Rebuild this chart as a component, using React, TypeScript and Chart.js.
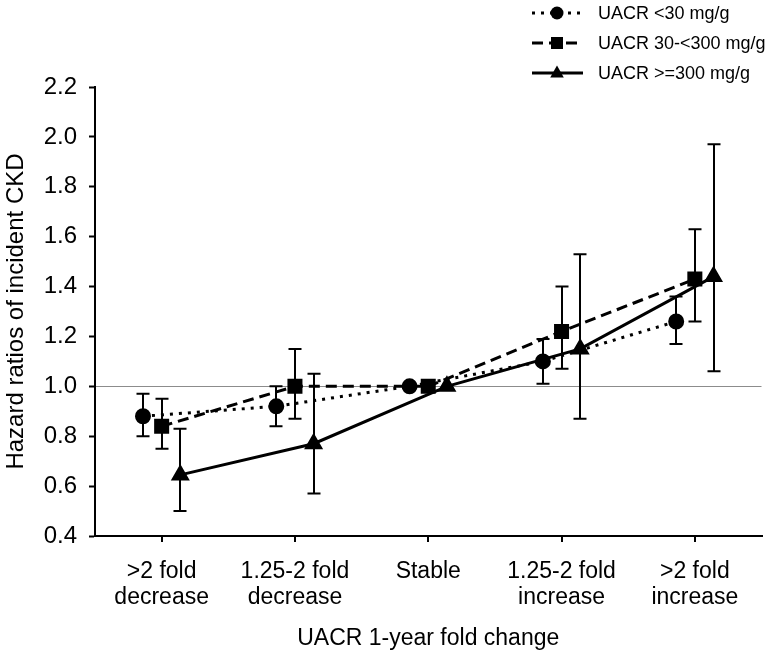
import React, { useEffect, useRef } from 'react';
import { Chart, registerables } from 'chart.js';

Chart.register(...registerables);

// ---- data ----
const categories: string[][] = [
  ['>2 fold', 'decrease'],
  ['1.25-2 fold', 'decrease'],
  ['Stable'],
  ['1.25-2 fold', 'increase'],
  ['>2 fold', 'increase'],
];

const seriesNames = ['UACR <30 mg/g', 'UACR 30-<300 mg/g', 'UACR >=300 mg/g'];

const lowHR = [0.88, 0.92, 1.0, 1.1, 1.26];
const lowLo = [0.8, 0.84, 1.0, 1.01, 1.17];
const lowHi = [0.97, 1.0, 1.0, 1.19, 1.36];

const midHR = [0.84, 1.0, 1.0, 1.22, 1.43];
const midLo = [0.75, 0.87, 1.0, 1.07, 1.26];
const midHi = [0.95, 1.15, 1.0, 1.4, 1.63];

const highHR = [0.645, 0.77, 1.0, 1.15, 1.44];
const highLo = [0.5, 0.57, 1.0, 0.87, 1.06];
const highHi = [0.83, 1.05, 1.0, 1.53, 1.97];

const yTicks = [0.4, 0.6, 0.8, 1.0, 1.2, 1.4, 1.6, 1.8, 2.0, 2.2];

const FONT = '"Liberation Sans", Arial, sans-serif';

function drawMarker(ctx: CanvasRenderingContext2D, style: string, x: number, y: number) {
  ctx.beginPath();
  if (style === 'circle') {
    ctx.arc(x, y, 6.5, 0, Math.PI * 2);
  } else if (style === 'rect') {
    ctx.rect(x - 6, y - 6, 12, 12);
  } else {
    ctx.moveTo(x, y - 7.5);
    ctx.lineTo(x + 6.8, y + 4.5);
    ctx.lineTo(x - 6.8, y + 4.5);
    ctx.closePath();
  }
  ctx.fill();
}

const errorBarPlugin = {
  id: 'errorBars',
  afterDatasetsDraw(chart: any) {
    const ctx = chart.ctx as CanvasRenderingContext2D;
    const ys = chart.scales.y;
    ctx.save();
    ctx.strokeStyle = '#000';
    ctx.lineWidth = 2;
    ctx.setLineDash([]);
    chart.data.datasets.forEach((ds: any, di: number) => {
      const meta = chart.getDatasetMeta(di);
      meta.data.forEach((pt: any, i: number) => {
        const lo = ds.errLo[i];
        const hi = ds.errHi[i];
        if (lo === hi) return;
        const x = Math.round(pt.x);
        const y1 = ys.getPixelForValue(lo);
        const y2 = ys.getPixelForValue(hi);
        ctx.beginPath();
        ctx.moveTo(x, y1);
        ctx.lineTo(x, y2);
        ctx.moveTo(x - 6.5, y1);
        ctx.lineTo(x + 6.5, y1);
        ctx.moveTo(x - 6.5, y2);
        ctx.lineTo(x + 6.5, y2);
        ctx.stroke();
      });
    });
    ctx.restore();
  },
};

const legendPlugin = {
  id: 'customLegend',
  afterDraw(chart: any) {
    const ctx = chart.ctx as CanvasRenderingContext2D;
    chart.data.datasets.forEach((ds: any, i: number) => {
      const y = 13 + i * 30;
      ctx.save();
      ctx.strokeStyle = '#000';
      ctx.fillStyle = '#000';
      ctx.lineWidth = 3;
      ctx.setLineDash(ds.borderDash || []);
      ctx.beginPath();
      ctx.moveTo(532, y);
      ctx.lineTo(583, y);
      ctx.stroke();
      ctx.setLineDash([]);
      drawMarker(ctx, ds.pointStyle, 557, y);
      ctx.font = '18px ' + FONT;
      ctx.textAlign = 'left';
      ctx.textBaseline = 'middle';
      ctx.fillText(ds.label, 598, y + 1);
      ctx.restore();
    });
  },
};

function makeData(vals: number[], offset: number) {
  return vals.map((v, i) => ({ x: i + offset, y: v }));
}

export default function App() {
  const ref = useRef<HTMLCanvasElement | null>(null);

  useEffect(() => {
    if (!ref.current) return;
    const common = {
      borderColor: '#000',
      backgroundColor: '#000',
      pointBackgroundColor: '#000',
      pointBorderColor: '#000',
      borderWidth: 3,
      fill: false,
      tension: 0,
    };
    const chart = new Chart(ref.current, {
      type: 'line',
      data: {
        datasets: [
          {
            ...common,
            label: seriesNames[0],
            data: makeData(lowHR, -0.14),
            borderDash: [3, 6],
            pointStyle: 'circle',
            pointRadius: 6.5,
            errLo: lowLo,
            errHi: lowHi,
          } as any,
          {
            ...common,
            label: seriesNames[1],
            data: makeData(midHR, 0),
            borderDash: [11, 6],
            pointStyle: 'rect',
            pointRadius: 8.5,
            errLo: midLo,
            errHi: midHi,
          } as any,
          {
            ...common,
            label: seriesNames[2],
            data: makeData(highHR, 0.14),
            borderDash: [],
            pointStyle: 'triangle',
            pointRadius: 8,
            errLo: highLo,
            errHi: highHi,
          } as any,
        ],
      },
      options: {
        responsive: false,
        animation: false,
        layout: { padding: { top: 87, right: 3, left: 0, bottom: 0 } },
        plugins: {
          legend: { display: false },
          tooltip: { enabled: false },
        },
        scales: {
          x: {
            type: 'linear',
            min: -0.5,
            max: 4.5,
            afterBuildTicks: (scale: any) => {
              scale.ticks = categories.map((_, i) => ({ value: i }));
            },
            afterFit: (scale: any) => {
              scale.height = 131;
            },
            ticks: {
              color: '#000',
              font: { family: FONT, size: 23, lineHeight: 1.15 },
              padding: 16,
              maxRotation: 0,
              autoSkip: false,
              callback: (v: any) => categories[Math.round(Number(v))],
            },
            grid: {
              drawOnChartArea: false,
              drawTicks: true,
              tickLength: 6,
              color: '#000',
              lineWidth: 2,
            },
            border: { display: true, color: '#000', width: 2 },
            title: {
              display: true,
              text: 'UACR 1-year fold change',
              color: '#000',
              font: { family: FONT, size: 23 },
              padding: { top: 0, bottom: 15 },
            },
          },
          y: {
            type: 'linear',
            min: yTicks[0],
            max: yTicks[yTicks.length - 1],
            afterBuildTicks: (scale: any) => {
              scale.ticks = yTicks.map((v) => ({ value: v }));
            },
            afterFit: (scale: any) => {
              scale.width = 95;
            },
            ticks: {
              color: '#000',
              font: { family: FONT, size: 24 },
              padding: 12,
              callback: (v: any) => Number(v).toFixed(1),
            },
            grid: {
              drawOnChartArea: true,
              drawTicks: true,
              tickLength: 6,
              color: (c: any) => (c.tick && Math.abs(c.tick.value - 1) < 1e-6 ? '#8c8c8c' : 'rgba(0,0,0,0)'),
              lineWidth: 1,
              tickColor: '#000',
              tickWidth: 2,
            },
            border: { display: true, color: '#000', width: 2 },
            title: {
              display: true,
              text: 'Hazard ratios of incident CKD',
              color: '#000',
              font: { family: FONT, size: 24 },
              padding: { top: 2, bottom: 0 },
            },
          },
        },
      } as any,
      plugins: [errorBarPlugin, legendPlugin],
    });
    return () => chart.destroy();
  }, []);

  return (
    <div style={{ position: 'fixed', left: 0, top: 0, width: 773, height: 667, background: '#fff' }}>
      <canvas ref={ref} width={773} height={667} style={{ display: 'block' }} />
    </div>
  );
}
